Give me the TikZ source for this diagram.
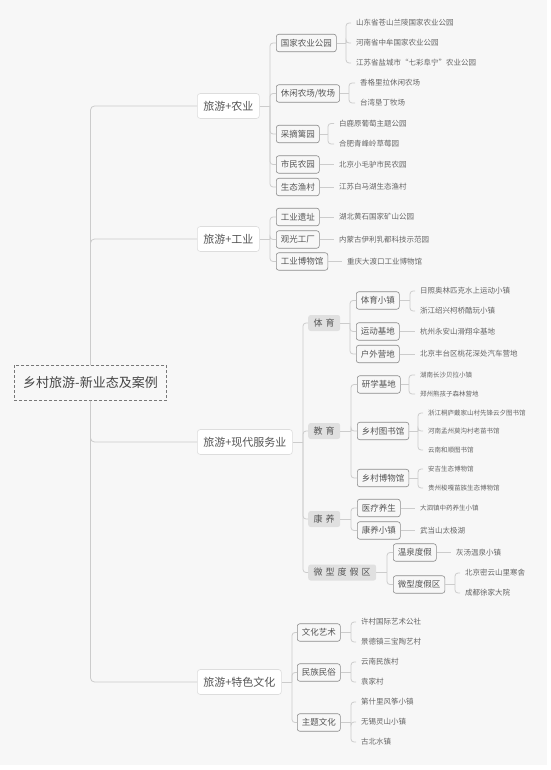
\documentclass[tikz,border=0pt]{standalone}
\usepackage{fontspec}
\setmainfont{Noto Sans CJK SC}
\definecolor{bgc}{HTML}{F7F7F7}
\definecolor{linec}{HTML}{CCCCCC}
\definecolor{lonebd}{HTML}{DDDDDD}
\definecolor{ltwobd}{HTML}{8C8C8C}
\definecolor{grayfill}{HTML}{E0E0E0}
\definecolor{textc}{HTML}{555555}
\definecolor{leafc}{HTML}{666666}
\definecolor{rootc}{HTML}{777777}
\definecolor{textroot}{HTML}{444444}
\begin{document}
\begin{tikzpicture}[x=1pt,y=-1pt,
  conn/.style={draw=linec, line width=0.8pt, rounded corners=3pt},
  rootbox/.style={draw=rootc, dash pattern=on 3pt off 2pt, line width=0.9pt, fill=bgc, text=textroot, font=\fontsize{13}{13}\selectfont, minimum height=35, inner xsep=9, anchor=center},
  lvone/.style={draw=lonebd, fill=white, rounded corners=3pt, font=\fontsize{11}{11}\selectfont, text=textc, minimum height=25, inner xsep=6, anchor=west, line width=0.6pt},
  lvtwo/.style={draw=ltwobd, fill=bgc, rounded corners=2.5pt, font=\fontsize{8.5}{8.5}\selectfont, text=textc, minimum height=17.5, inner xsep=4.5, anchor=west, line width=0.6pt},
  graybox/.style={fill=grayfill, rounded corners=2.5pt, font=\fontsize{9}{9}\selectfont, text=textc, minimum height=16, inner xsep=5.5, anchor=west},
  leaf/.style={font=\fontsize{7.5}{7.5}\selectfont, text=leafc, inner xsep=0, outer xsep=5pt, anchor=west},
  sleaf/.style={leaf, font=\fontsize{6.5}{6.5}\selectfont},
]
\useasboundingbox (0,0) rectangle (550,770);
\fill[white] (0,0) rectangle (550,770);
\fill[bgc] (0,0) rectangle (547,765);

% root and level 1
\node[rootbox] (root) at (90.5,383) {乡村旅游-新业态及案例};
\node[lvone] (agri) at (197,106) {旅游+农业};
\node[lvone] (ind) at (197,239) {旅游+工业};
\node[lvone] (serv) at (197,442) {旅游+现代服务业};
\node[lvone] (cult) at (197,682) {旅游+特色文化};
\draw[conn, rounded corners=4pt] (root.north) |- (agri.west);
\draw[conn, rounded corners=4pt] (root.north) |- (ind.west);
\draw[conn, rounded corners=4pt] (root.south) |- (serv.west);
\draw[conn, rounded corners=4pt] (root.south) |- (cult.west);

% ===== agriculture
\node[lvtwo] (a1) at (276,43) {国家农业公园};
\node[lvtwo] (a2) at (276,93.5) {休闲农场/牧场};
\node[lvtwo] (a3) at (276,134) {采摘篱园};
\node[lvtwo] (a4) at (276,164.5) {市民农园};
\node[lvtwo] (a5) at (276,187) {生态渔村};
\coordinate (agrij) at (270,106);
\draw[conn] (agri.east) -- (agrij);
\foreach \c in {a1,a2,a3,a4,a5} \draw[conn] (agrij) |- (\c.west);

\node[leaf] (a1a) at (351,23) {山东省苍山兰陵国家农业公园};
\node[leaf] (a1b) at (351,43) {河南省中牟国家农业公园};
\node[leaf] (a1c) at (351,63) {江苏省盐城市“七彩阜宁”农业公园};
\coordinate (a1j) at (346,43);
\draw[conn] (a1.east) -- (a1j);
\foreach \c in {a1a,a1b,a1c} \draw[conn] (a1j) |- (\c.west);

\node[leaf] (a2a) at (355,83) {香格里拉休闲农场};
\node[leaf] (a2b) at (355,103) {台湾垦丁牧场};
\coordinate (a2j) at (349,93.5);
\draw[conn] (a2.east) -- (a2j);
\foreach \c in {a2a,a2b} \draw[conn] (a2j) |- (\c.west);

\node[leaf] (a3a) at (334,123.5) {白鹿原葡萄主题公园};
\node[leaf] (a3b) at (334,144) {合肥青峰岭草莓园};
\coordinate (a3j) at (328,134);
\draw[conn] (a3.east) -- (a3j);
\foreach \c in {a3a,a3b} \draw[conn] (a3j) |- (\c.west);

\node[leaf] (a4a) at (334,164.5) {北京小毛驴市民农园};
\draw[conn] (a4.east) -- (a4a.west);
\node[leaf] (a5a) at (334,187) {江苏白马湖生态渔村};
\draw[conn] (a5.east) -- (a5a.west);

% ===== industry
\node[lvtwo] (i1) at (276,217) {工业遗址};
\node[lvtwo] (i2) at (276,239.5) {观光工厂};
\node[lvtwo] (i3) at (276,261.5) {工业博物馆};
\coordinate (indj) at (270,239);
\draw[conn] (ind.east) -- (indj);
\foreach \c in {i1,i2,i3} \draw[conn] (indj) |- (\c.west);
\node[leaf] (i1a) at (334,217) {湖北黄石国家矿山公园};
\node[leaf] (i2a) at (334,239.5) {内蒙古伊利乳都科技示范园};
\node[leaf] (i3a) at (342,261.5) {重庆大渡口工业博物馆};
\draw[conn] (i1.east) -- (i1a.west);
\draw[conn] (i2.east) -- (i2a.west);
\draw[conn] (i3.east) -- (i3a.west);

% ===== modern services
\node[graybox] (s1) at (308,323) {体\hspace{3pt}育};
\node[graybox] (s2) at (308,431) {教\hspace{3pt}育};
\node[graybox] (s3) at (308,519) {康\hspace{3pt}养};
\node[graybox] (s4) at (308,572.5) {微\hspace{3pt}型\hspace{3pt}度\hspace{3pt}假\hspace{3pt}区};
\coordinate (servj) at (303,442);
\draw[conn] (serv.east) -- (servj);
\foreach \c in {s1,s2,s3,s4} \draw[conn] (servj) |- (\c.west);

% sport
\node[lvtwo] (e1) at (356,300.5) {体育小镇};
\node[lvtwo] (e2) at (356,331.5) {运动基地};
\node[lvtwo] (e3) at (356,354) {户外营地};
\coordinate (s1j) at (350,323);
\draw[conn] (s1.east) -- (s1j);
\foreach \c in {e1,e2,e3} \draw[conn] (s1j) |- (\c.west);
\node[leaf] (e1a) at (415,291) {日照奥林匹克水上运动小镇};
\node[leaf] (e1b) at (415,311) {浙江绍兴柯桥酷玩小镇};
\coordinate (e1j) at (410,300.5);
\draw[conn] (e1.east) -- (e1j);
\foreach \c in {e1a,e1b} \draw[conn] (e1j) |- (\c.west);
\node[leaf] (e2a) at (415,331.5) {杭州永安山滑翔伞基地};
\draw[conn] (e2.east) -- (e2a.west);
\node[leaf] (e3a) at (415,354) {北京丰台区桃花深处汽车营地};
\draw[conn] (e3.east) -- (e3a.west);

% education
\node[lvtwo] (f1) at (357,384.5) {研学基地};
\node[lvtwo] (f2) at (357,431) {乡村图书馆};
\node[lvtwo] (f3) at (357,478) {乡村博物馆};
\coordinate (s2j) at (351,431);
\draw[conn] (s2.east) -- (s2j);
\foreach \c in {f1,f2,f3} \draw[conn] (s2j) |- (\c.west);
\node[sleaf] (f1a) at (415,375) {湖南长沙贝拉小镇};
\node[sleaf] (f1b) at (415,394) {郑州熊孩子森林营地};
\coordinate (f1j) at (409,384.5);
\draw[conn] (f1.east) -- (f1j);
\foreach \c in {f1a,f1b} \draw[conn] (f1j) |- (\c.west);
\node[sleaf] (f2a) at (423,413) {浙江桐庐戴家山村先锋云夕图书馆};
\node[sleaf] (f2b) at (423,431) {河南孟州莫沟村老苗书馆};
\node[sleaf] (f2c) at (423,450) {云南和顺图书馆};
\coordinate (f2j) at (418,431);
\draw[conn] (f2.east) -- (f2j);
\foreach \c in {f2a,f2b,f2c} \draw[conn] (f2j) |- (\c.west);
\node[sleaf] (f3a) at (423,469) {安吉生态博物馆};
\node[sleaf] (f3b) at (423,488) {贵州梭嘎苗族生态博物馆};
\coordinate (f3j) at (418,478);
\draw[conn] (f3.east) -- (f3j);
\foreach \c in {f3a,f3b} \draw[conn] (f3j) |- (\c.west);

% wellness
\node[lvtwo] (g1) at (357,508) {医疗养生};
\node[lvtwo] (g2) at (357,530.5) {康养小镇};
\coordinate (s3j) at (351,519);
\draw[conn] (s3.east) -- (s3j);
\foreach \c in {g1,g2} \draw[conn] (s3j) |- (\c.west);
\node[sleaf] (g1a) at (415,508) {大泗镇中药养生小镇};
\draw[conn] (g1.east) -- (g1a.west);
\node[leaf] (g2a) at (415,530.5) {武当山太极湖};
\draw[conn] (g2.east) -- (g2a.west);

% micro resort
\node[lvtwo] (h1) at (393,552.5) {温泉度假};
\node[lvtwo] (h2) at (393,584.5) {微型度假区};
\coordinate (s4j) at (387,572.5);
\draw[conn] (s4.east) -- (s4j);
\foreach \c in {h1,h2} \draw[conn] (s4j) |- (\c.west);
\node[leaf] (h1a) at (451,552.5) {灰汤温泉小镇};
\draw[conn] (h1.east) -- (h1a.west);
\node[leaf] (h2a) at (460,573) {北京密云山里寒舍};
\node[leaf] (h2b) at (460,593) {成都徐家大院};
\coordinate (h2j) at (455,584.5);
\draw[conn] (h2.east) -- (h2j);
\foreach \c in {h2a,h2b} \draw[conn] (h2j) |- (\c.west);

% ===== culture
\node[lvtwo] (c1) at (297,632.5) {文化艺术};
\node[lvtwo] (c2) at (297,672.5) {民族民俗};
\node[lvtwo] (c3) at (297,722.5) {主题文化};
\coordinate (cultj) at (292,682);
\draw[conn] (cult.east) -- (cultj);
\foreach \c in {c1,c2,c3} \draw[conn] (cultj) |- (\c.west);
\node[leaf] (c1a) at (356,622) {许村国际艺术公社};
\node[leaf] (c1b) at (356,642) {景德镇三宝陶艺村};
\coordinate (c1j) at (351,632.5);
\draw[conn] (c1.east) -- (c1j);
\foreach \c in {c1a,c1b} \draw[conn] (c1j) |- (\c.west);
\node[leaf] (c2a) at (356,662) {云南民族村};
\node[leaf] (c2b) at (356,682) {袁家村};
\coordinate (c2j) at (351,672.5);
\draw[conn] (c2.east) -- (c2j);
\foreach \c in {c2a,c2b} \draw[conn] (c2j) |- (\c.west);
\node[leaf] (c3a) at (356,702) {第什里风筝小镇};
\node[leaf] (c3b) at (356,722) {无锡灵山小镇};
\node[leaf] (c3c) at (356,742) {古北水镇};
\coordinate (c3j) at (351,722.5);
\draw[conn] (c3.east) -- (c3j);
\foreach \c in {c3a,c3b,c3c} \draw[conn] (c3j) |- (\c.west);
\end{tikzpicture}
\end{document}
